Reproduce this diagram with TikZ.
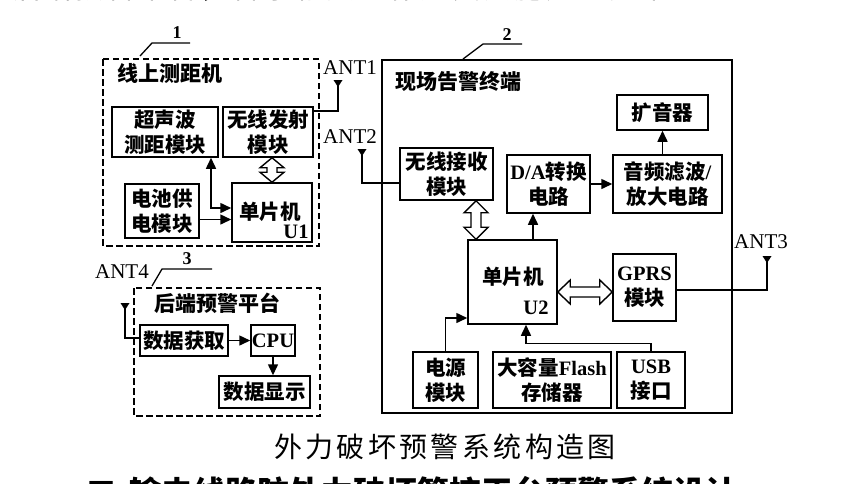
\documentclass[tikz,border=0pt]{standalone}
\usepackage{fontspec}
\setmainfont{Liberation Serif}
\newfontfamily\cjk{Noto Sans CJK SC}
\newfontfamily\capfont{Noto Sans CJK SC}[LetterSpace=12]
\newfontfamily\lat{Liberation Serif}
\usetikzlibrary{arrows.meta,calc}

\tikzset{
  box/.style={draw, line width=1.5pt, inner sep=0pt, align=center,
    font=\cjk\bfseries\fontsize{20.5}{25}\selectfont},
  dbox/.style={draw, line width=1.8pt, dash pattern=on 6.5pt off 3.5pt},
  sbox/.style={draw, line width=1.6pt},
  wire/.style={line width=1.5pt},
  arr/.style={wire, -{Triangle[length=11pt,width=10pt]}},
  arrtwo/.style={wire, {Triangle[length=11pt,width=10pt]}-{Triangle[length=11pt,width=10pt]}},
  hollow/.style={draw, line width=1.4pt, fill=white, line join=miter},
  title/.style={font=\cjk\bfseries\fontsize{21}{25}\selectfont, inner sep=0pt},
  txt/.style={font=\cjk\bfseries\fontsize{20.5}{25}\selectfont, inner sep=0pt},
  ant/.style={font=\lat\fontsize{21}{24}\selectfont, inner sep=0pt},
  unum/.style={font=\lat\bfseries\fontsize{20.5}{24}\selectfont, inner sep=0pt},
  num/.style={font=\lat\bfseries\fontsize{18}{20}\selectfont, inner sep=0pt},
  lead/.style={line width=1.3pt},
}

% antenna symbol: small inverted triangle whose top edge is at the coordinate
\newcommand\antmark[1]{\fill (#1) ++(-4.5,0) -- ++(9,0) -- ++(-4.5,7) -- cycle;}
% hollow double arrows
\newcommand\hollowV[3]{%
  \path[hollow] let \p1=(#1), \p2=(#2) in
    (\x1,\y1) -- (\x1+12pt,\y1-#3) -- (\x1+5pt,\y1-#3) -- (\x1+5pt,\y2+#3)
    -- (\x1+12pt,\y2+#3) -- (\x1,\y2) -- (\x1-12pt,\y2+#3) -- (\x1-5pt,\y2+#3)
    -- (\x1-5pt,\y1-#3) -- (\x1-12pt,\y1-#3) -- cycle;}
\newcommand\hollowH[3]{%
  \path[hollow] let \p1=(#1), \p2=(#2) in
    (\x1,\y1) -- (\x1+#3,\y1+12pt) -- (\x1+#3,\y1+5pt) -- (\x2-#3,\y1+5pt)
    -- (\x2-#3,\y1+12pt) -- (\x2,\y1) -- (\x2-#3,\y1-12pt) -- (\x2-#3,\y1-5pt)
    -- (\x1+#3,\y1-5pt) -- (\x1+#3,\y1-12pt) -- cycle;}

\begin{document}
\begin{tikzpicture}[x=1pt,y=-1pt]
\useasboundingbox (0,0) rectangle (850,483);
\clip (0,0) rectangle (850,483);

% ---- surrounding page text (cut by the picture edges)
\node[anchor=base west, inner sep=0pt, font=\capfont\fontsize{28}{30}\selectfont] (toptext) at (13,-2)
  {后端预警平台，警示相关工作人员实施应急方案。};
\node[anchor=base, inner sep=0pt, font=\capfont\fontsize{28}{30}\selectfont] (caption) at (445,457)
  {外力破坏预警系统构造图};
\node[anchor=base west, inner sep=0pt, font=\cjk\bfseries\fontsize{32}{36}\selectfont] (heading) at (85,504)
  {二\hspace{12pt}输电线路防外力破坏管控平台预警系统设计};

% ================= block 1 =================
\draw[dbox] (103,59) rectangle (319,246);
\draw[lead] (140,56) -- (152,43) -- (190,43);
\node[num] (n1) at (177,33) {1};
\node[title] (t1) at (170,73) {线上测距机};

\node[box, minimum width=106pt, minimum height=50pt] (ultra) at (165,132) {超声波\\测距模块};
\node[box, minimum width=90pt, minimum height=50pt] (wtx) at (268,132) {无线发射\\模块};
\node[box, minimum width=74pt, minimum height=54pt] (batt) at (162,211) {电池供\\电模块};
\node[box, minimum width=80pt, minimum height=59pt] (u1) at (272,212.5) {};
\node[txt] (u1a) at (270,212) {单片机};
\node[unum] (u1b) at (296,232) {U1};

\draw[arr] ([yshift=-8.5pt]batt.east) -- ([yshift=-8.5pt]batt.east -| u1.west);
\draw[arrtwo] ([yshift=4.5pt]u1.west) -| ([xshift=46pt]ultra.south);
\coordinate (wu) at ([xshift=4pt]wtx.south);
\hollowV{wu}{wu |- u1.north}{10pt}

% ANT1
\coordinate (a1) at (338,80);
\antmark{a1}
\node[ant] (ant1l) at (350,68) {ANT1};
\draw[wire] (a1) |- ([yshift=21pt]wtx.east);

% ================= block 2 =================
\draw[sbox] (382,60) rectangle (732,413);
\draw[lead] (463,59) -- (483,44) -- (522,44);
\node[num] (n2) at (507,35) {2};
\node[title] (t2) at (458,81) {现场告警终端};

\node[box, minimum width=91pt, minimum height=35pt] (spk) at (662.5,112.5) {扩音器};
\node[box, minimum width=109pt, minimum height=58pt] (audio) at (667.5,184) {音频滤波{\lat /}\\放大电路};
\node[box, minimum width=93pt, minimum height=52pt] (wrx) at (446.5,174) {无线接收\\模块};
\node[box, minimum width=83pt, minimum height=58pt] (da) at (548.5,184) {{\lat D/A}转换\\电路};
\node[box, minimum width=89pt, minimum height=84pt] (u2) at (512.5,282) {};
\node[txt] (u2a) at (513,277) {单片机};
\node[unum] (u2b) at (536,308) {U2};
\node[box, minimum width=63pt, minimum height=67pt] (gprs) at (644.5,287.5) {{\lat GPRS}\\模块};
\node[box, minimum width=65pt, minimum height=56pt] (pwr) at (445.5,380) {电源\\模块};
\node[box, minimum width=118pt, minimum height=56pt] (flash) at (552,380) {大容量{\lat Flash}\\存储器};
\node[box, minimum width=68pt, minimum height=56pt] (usb) at (651,380) {{\lat USB}\\接口};

\draw[arr] (da.east) -- (audio.west);
\draw[arr] (audio.north -| spk.south) -- (spk.south);
\coordinate (dain) at ([xshift=-15.5pt]da.south);
\draw[arr] (u2.north -| dain) -- (dain);
\coordinate (wrxo) at ([xshift=29.5pt]wrx.south);
\hollowV{wrxo}{wrxo |- u2.north}{12pt}
\coordinate (u2g) at ([yshift=-10pt]u2.east);
\hollowH{u2g}{u2g -| gprs.west}{12.5pt}
\draw[arr] (pwr.north) |- ([yshift=-36pt]u2.west);
\draw[arr] (usb.north) -- ++(0,-8) -| ([xshift=13.5pt]u2.south);

% ANT2
\coordinate (a2) at (362,149);
\antmark{a2}
\node[ant] (ant2l) at (350,137) {ANT2};
\draw[wire] (a2) |- ([yshift=-9pt]wrx.west);

% ANT3
\coordinate (a3) at (767,256);
\antmark{a3}
\node[ant] (ant3l) at (761,242) {ANT3};
\draw[wire] ([yshift=-2.5pt]gprs.east) -| (a3);

% ================= block 3 =================
\draw[dbox] (134,288) rectangle (320,416);
\draw[lead] (152,286) -- (162,269) -- (212,269);
\node[num] (n3) at (187,259) {3};
\node[title] (t3) at (217,303) {后端预警平台};

\node[box, minimum width=88pt, minimum height=31pt] (acq) at (184,340.5) {数据获取};
\node[box, minimum width=44pt, minimum height=31pt] (cpu) at (273,340.5) {{\lat CPU}};
\node[box, minimum width=91pt, minimum height=32pt] (disp) at (264.5,392) {数据显示};

\draw[arr] (acq.east) -- (cpu.west);
\draw[arr] (cpu.south) -- (cpu.south |- disp.north);

% ANT4
\coordinate (a4) at (125,303);
\antmark{a4}
\node[ant] (ant4l) at (122,272) {ANT4};
\draw[wire] (a4) |- ([yshift=2.5pt]acq.west);
\end{tikzpicture}
\end{document}
